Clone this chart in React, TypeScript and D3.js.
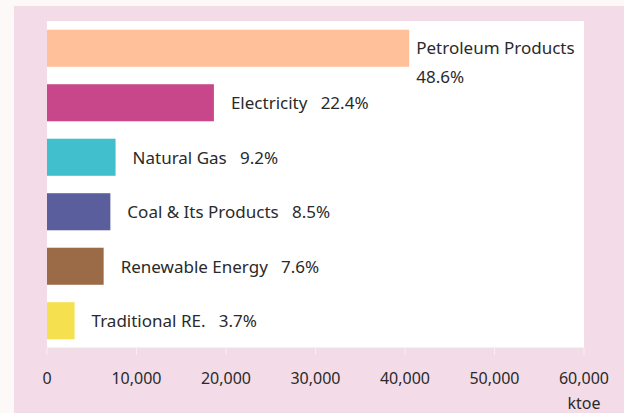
import React from "react";
import * as d3 from "d3";

// final energy consumption by fuel type (ktoe)
const categories = [
  "Petroleum Products",
  "Electricity",
  "Natural Gas",
  "Coal & Its Products",
  "Renewable Energy",
  "Traditional RE.",
];
const values = [40470, 18650, 7660, 7080, 6330, 3080];
const shares = ["48.6%", "22.4%", "9.2%", "8.5%", "7.6%", "3.7%"];
const colors = ["#ffc09a", "#c8478a", "#42bfcd", "#5b5e9d", "#9b6b48", "#f5e050"];
const xTicks = [0, 10000, 20000, 30000, 40000, 50000, 60000];
const unitLabel = "ktoe";

const W = 624;
const H = 413;
const PLOT = { left: 47, right: 584, top: 21, bottom: 348 };
const FONT = "'Noto Sans', sans-serif";
const TEXT = "#2a2a2a";

export default function App() {
  const x = d3.scaleLinear().domain([0, 60000]).range([PLOT.left, PLOT.right]);
  const y = d3
    .scaleBand<string>()
    .domain(categories)
    .range([PLOT.top, PLOT.bottom])
    .paddingInner(0.32)
    .paddingOuter(0.16);
  const fmt = d3.format(",");

  const bars = categories.map((c, i) => {
    const y0 = y(c) as number;
    const bw = y.bandwidth();
    const xEnd = x(values[i]);
    const label =
      i === 0 ? (
        <text x={xEnd + 7} y={y0 + bw / 2} fontSize={17} fill={TEXT}>
          <tspan x={xEnd + 7} dy="0.35em">{c}</tspan>
          <tspan x={xEnd + 7} dy="1.7em">{shares[i]}</tspan>
        </text>
      ) : (
        <text
          x={xEnd + 17}
          y={y0 + bw / 2}
          dy="0.38em"
          fontSize={17}
          fill={TEXT}
          style={{ whiteSpace: "pre" }}
        >
          {c + "   " + shares[i]}
        </text>
      );
    return (
      <g key={c}>
        <rect x={x(0)} y={y0} width={xEnd - x(0)} height={bw} fill={colors[i]} />
        {label}
      </g>
    );
  });

  return (
    <svg
      width={W}
      height={H}
      style={{ position: "absolute", left: 0, top: 0, fontFamily: FONT }}
    >
      <rect x={0} y={0} width={W} height={H} fill="#fdf9f8" />
      <rect x={14} y={6} width={W - 14} height={H - 6} fill="#f3dce8" />
      <rect
        x={PLOT.left}
        y={PLOT.top}
        width={PLOT.right - PLOT.left}
        height={PLOT.bottom - PLOT.top}
        fill="#ffffff"
      />
      <line
        x1={PLOT.left}
        x2={PLOT.right}
        y1={PLOT.bottom}
        y2={PLOT.bottom}
        stroke="#e6e2e4"
      />
      {bars}
      {xTicks.map((t) => (
        <g key={t}>
          <line
            x1={x(t)}
            x2={x(t)}
            y1={PLOT.bottom}
            y2={PLOT.bottom + 7}
            stroke="#f8eef3"
          />
          <text
            x={x(t)}
            y={378}
            dy="0.35em"
            textAnchor="middle"
            fontSize={16}
            fill={TEXT}
          >
            {fmt(t)}
          </text>
        </g>
      ))}
      <text x={x(60000)} y={403} dy="0.35em" textAnchor="middle" fontSize={16} fill={TEXT}>
        {unitLabel}
      </text>
    </svg>
  );
}
